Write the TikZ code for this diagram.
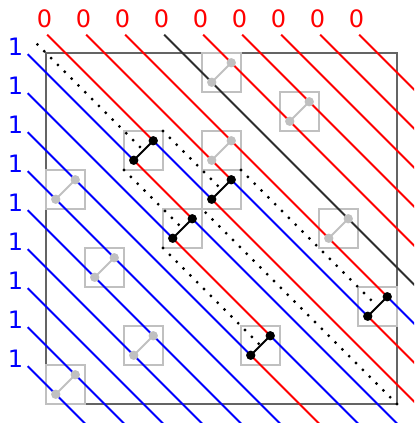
\documentclass[tikz,border=0pt]{standalone}
\usepackage{fontspec}
\newfontfamily\labelfont{DejaVu Sans}
\definecolor{wred}{RGB}{255,0,0}
\definecolor{wblue}{RGB}{0,0,255}
\definecolor{wdark}{RGB}{45,45,45}
\definecolor{boxgray}{RGB}{192,192,192}
\definecolor{framegray}{RGB}{100,100,100}
\tikzset{
  wire/.style={line width=1.5pt},
  redw/.style={wire, draw=wred},
  bluew/.style={wire, draw=wblue},
  darkw/.style={wire, draw=wdark},
  lab/.style={inner sep=0pt, font=\labelfont\fontsize{17.5}{20}\selectfont},
  labzero/.style={lab, text=wred},
  labone/.style={lab, text=wblue},
  cellbox/.style={draw=boxgray, line width=1.6pt},
  dotline/.style={draw=black, line width=2.3pt, line cap=round, dash pattern=on 0pt off 7.05pt},
  swapseg/.style={draw=black, line width=1.5pt},
  keepseg/.style={draw=boxgray, line width=1.5pt},
}
\begin{document}
\begin{tikzpicture}[x=1cm,y=-1cm]
\useasboundingbox (-1.1795,-1.359) rectangle (9.4359,9.487);
\clip (-1.1795,-1.359) rectangle (9.4359,9.487);

% labels
\foreach \k in {0,...,8} \node[labzero] (z\k) at (\k-0.04,-0.89) {0};
\foreach \j in {0,...,8} \node[labone] (o\j) at (-0.78,\j-0.15) {1};

% frame
\draw[framegray, line width=1.6pt] (0,0) rectangle (9,9);

% wire start / end coordinates
\foreach \k in {0,...,8} {
  \coordinate (R\k) at (\k+0.03,-0.47);
  \coordinate (R\k e) at (\k+12.03,11.53);
  \coordinate (L\k) at (-0.47,\k+0.03);
  \coordinate (L\k e) at (11.53,\k+12.03);
}

% gray (non-crossing) boxes
\foreach \c/\r [count=\n] in {4/0,6/1,4/2,0/3,7/4,1/5,2/7,0/8} {
  \draw[cellbox] (\c,\r) rectangle ++(1,1);
  \coordinate (g\n-ll) at (\c+0.25,\r+0.75);
  \coordinate (g\n-ur) at (\c+0.75,\r+0.25);
}
% black (crossing) boxes
\foreach \nm/\c/\r in {A/2/2,B/4/3,C/3/4,D/8/6,E/5/7} {
  \draw[cellbox] (\c,\r) rectangle ++(1,1);
  \coordinate (\nm-ll) at (\c+0.25,\r+0.75);
  \coordinate (\nm-ur) at (\c+0.75,\r+0.25);
  \coordinate (\nm-c) at (\c+0.5,\r+0.5);
  \coordinate (\nm-tr) at (\c+1,\r);
  \coordinate (\nm-bl) at (\c,\r+1);
}
\coordinate (dstart) at (-0.22,-0.22);
\coordinate (corner) at (9,9);

% dotted paths
\draw[dotline] (dstart) -- (A-c);
\draw[dotline] (A-tr) -- (B-c);
\draw[dotline] (A-bl) -- (C-c);
\draw[dotline] (B-tr) -- (D-c);
\draw[dotline] (C-bl) -- (E-c);
\draw[dotline] (corner) -- (B-bl);

% wires entering from the top
\draw[redw] (R0) -- (A-ur);
\draw[bluew] (A-ur) -- (B-ll);
\draw[redw] (B-ll) -- (R0e);
\draw[redw] (R1) -- (B-ur);
\draw[bluew] (B-ur) -- (D-ll);
\draw[redw] (D-ll) -- (R1e);
\draw[redw] (R2) -- (D-ur);
\draw[bluew] (D-ur) -- (R2e);
\draw[darkw] (R3) -- (R3e);
\foreach \k in {4,...,8} \draw[redw] (R\k) -- (R\k e);

% wires entering from the left
\draw[bluew] (L0) -- (A-ll);
\draw[redw] (A-ll) -- (C-ur);
\draw[bluew] (C-ur) -- (L0e);
\draw[bluew] (L1) -- (C-ll);
\draw[redw] (C-ll) -- (E-ur);
\draw[bluew] (E-ur) -- (L1e);
\draw[bluew] (L2) -- (E-ll);
\draw[redw] (E-ll) -- (L2e);
\foreach \j in {3,...,8} \draw[bluew] (L\j) -- (L\j e);

% box connectors and dots
\foreach \n in {1,...,8} {
  \draw[keepseg] (g\n-ll) -- (g\n-ur);
  \fill[boxgray] (g\n-ll) circle (0.12);
  \fill[boxgray] (g\n-ur) circle (0.12);
}
\foreach \nm in {A,B,C,D,E} {
  \draw[swapseg] (\nm-ll) -- (\nm-ur);
  \fill[black] (\nm-ll) circle (0.12);
  \fill[black] (\nm-ur) circle (0.12);
}
\end{tikzpicture}
\end{document}
